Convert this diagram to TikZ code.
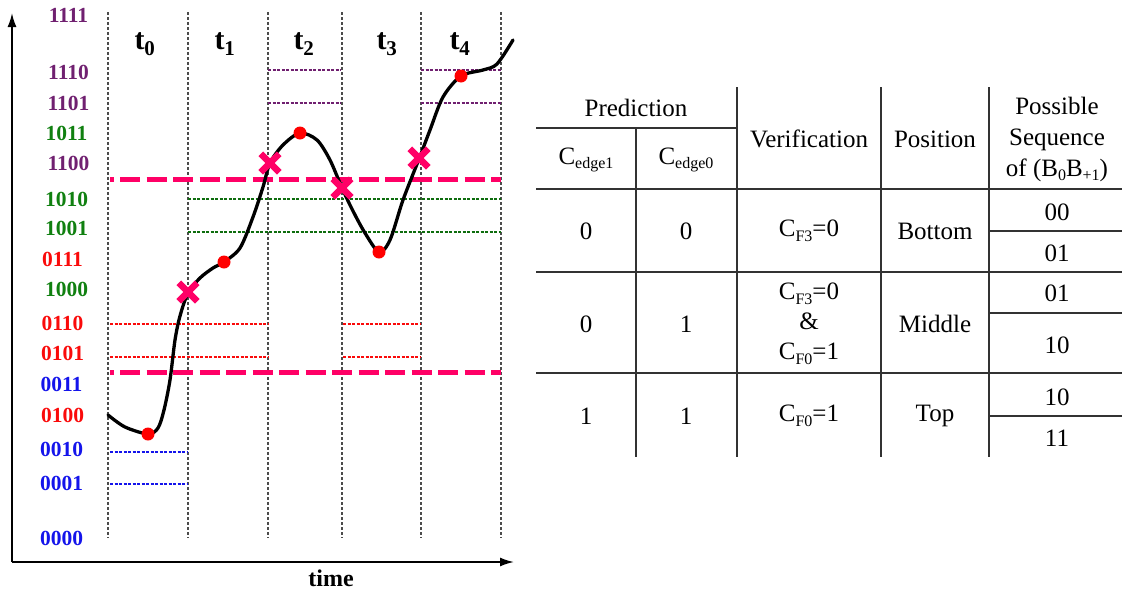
\documentclass[tikz,border=0pt]{standalone}
\usepackage{fontspec}
\setmainfont{Liberation Serif}
\usepackage{xcolor}
\usetikzlibrary{arrows.meta,shapes.misc}

\definecolor{lvlpurple}{RGB}{112,32,112}
\definecolor{lvlgreen}{RGB}{16,128,16}
\definecolor{lvlred}{RGB}{250,10,10}
\definecolor{lvlblue}{RGB}{20,20,235}
\definecolor{boundpink}{RGB}{255,0,102}
\definecolor{tablerule}{RGB}{50,50,50}

% small lowered index for table entries
\newcommand\idx[1]{\raisebox{-4.5pt}{\fontsize{16}{16}\selectfont #1}}

\begin{document}
\begin{tikzpicture}[
        x=1pt, y=-1pt,
        >={Latex[length=14pt,width=9pt]},
        lvl/.style={font=\fontsize{21.5}{23}\selectfont\bfseries, inner sep=0pt},
        slot/.style={font=\fontsize{30}{32}\selectfont\bfseries, inner sep=0pt},
        cell/.style={font=\fontsize{25}{30}\selectfont, align=center, inner sep=0pt},
        grid/.style={draw=black!70, line width=1.2pt, dash pattern=on 3pt off 2pt},
        level/.style={line width=1.1pt, dash pattern=on 3pt off 1.5pt},
        bound/.style={draw=boundpink, line width=5pt, dash pattern=on 20pt off 6.5pt, dash phase=16.5pt},
        signal/.style={line width=3.3pt, line cap=round, line join=round},
        peak/.style={circle, fill=red, inner sep=0pt, minimum size=13pt},
        crossing/.style={cross out, draw=boundpink, line width=6.5pt, minimum size=12pt, inner sep=0pt},
        rulew/.style={draw=tablerule, line width=1.6pt}
    ]
    \useasboundingbox (0,0) rectangle (1122,592);

    % axes
    \coordinate (origin) at (12,562);
    \coordinate (ytop) at (12,13);
    \coordinate (xend) at (514,562);
    \draw[->, line width=1.8pt] (origin) -- (ytop);
    \draw[->, line width=1.8pt] (origin) -- (xend);
    \node[font=\fontsize{24}{26}\selectfont\bfseries] (time) at (331,578) {time};

    % code levels
    \foreach \code/\y in {1111/15, 1110/72, 1101/103, 1100/163}
        \node[lvl, text=lvlpurple] (c\code) at (68.5,\y) {\code};
    \foreach \code/\y in {1011/133, 1010/199, 1001/228, 1000/289}
        \node[lvl, text=lvlgreen] (c\code) at (66.5,\y) {\code};
    \foreach \code/\y in {0111/259, 0110/323, 0101/353, 0100/415}
        \node[lvl, text=lvlred] (c\code) at (62.5,\y) {\code};
    \foreach \code/\y in {0011/384, 0010/449, 0001/483, 0000/538}
        \node[lvl, text=lvlblue] (c\code) at (61.5,\y) {\code};

    % time slots
    \foreach \x in {108, 188, 268, 342, 421, 501}
        \draw[grid] (\x,12) -- (\x,538);
    \foreach \i/\x in {0/145, 1/225, 2/304, 3/387, 4/460}
        \node[slot] (t\i) at (\x,44) {t\textsubscript{\i}};

    % thresholds of each slot
    \foreach \y in {70, 103} {
        \draw[level, lvlpurple] (268,\y) -- (341,\y);
        \draw[level, lvlpurple] (421,\y) -- (501,\y);
    }
    \foreach \y in {199, 232}
        \draw[level, lvlgreen!85!black] (188,\y) -- (501,\y);
    \foreach \y in {324, 357} {
        \draw[level, lvlred] (110,\y) -- (268,\y);
        \draw[level, lvlred] (343,\y) -- (420,\y);
    }
    \foreach \y in {452, 484}
        \draw[level, lvlblue] (110,\y) -- (187,\y);

    \draw[bound] (110,179) -- (501,179);
    \draw[bound] (110,372) -- (501,372);

    % signal
    \draw[signal] plot[smooth, tension=0.5] coordinates {
        (108,415) (125,427) (148,434) (158,428) (164,410) (170,380) (175,340)
        (180,316) (188,293) (200,278) (213,268) (224,262) (240,248) (253,217)
        (263,187) (270,163) (283,145) (300,133) (317,140) (330,160) (342,188)
        (353,211) (365,233) (379,252) (390,240) (403,200) (419,159) (430,130)
        (443,97) (461,76) (483,70) (497,64) (513,40)};

    \foreach \n/\x/\y in {a/148/434, b/224/262, c/300/133, d/379/252, e/461/76}
        \node[peak] (p\n) at (\x,\y) {};
    \foreach \n/\x/\y in {a/188/292, b/270/163, c/342/188, d/419/158}
        \node[crossing] (x\n) at (\x,\y) {};

    % table
    \draw[rulew] (536,128) -- (737,128);
    \foreach \y in {189, 272, 373}
        \draw[rulew] (536,\y) -- (1122,\y);
    \foreach \y in {231, 313, 416}
        \draw[rulew] (989,\y) -- (1122,\y);
    \draw[rulew] (636,128) -- (636,457);
    \foreach \x in {737, 881, 989}
        \draw[rulew] (\x,87) -- (\x,457);

    \node[cell] (pred) at (636,108) {Prediction};
    \node[cell] (edge1) at (586,160) {C\idx{edge1}};
    \node[cell] (edge0) at (686,160) {C\idx{edge0}};
    \node[cell] (verif) at (809,139) {Verification};
    \node[cell] (posit) at (935,139) {Position};
    \node[cell, font=\fontsize{25}{31}\selectfont] (seq) at (1057,139) {Possible\\Sequence\\of (B\idx{0}B\idx{+1})};

    \node[cell] (b1) at (586,231) {0};
    \node[cell] (b0) at (686,231) {0};
    \node[cell] (bv) at (809,231) {C\idx{F3}=0};
    \node[cell] (bp) at (935,231) {Bottom};
    \node[cell] (bs1) at (1057,212) {00};
    \node[cell] (bs2) at (1057,253) {01};

    \node[cell] (m1) at (586,324) {0};
    \node[cell] (m0) at (686,324) {1};
    \node[cell] (mv) at (809,324) {C\idx{F3}=0\\\&\\C\idx{F0}=1};
    \node[cell] (mp) at (935,324) {Middle};
    \node[cell] (ms1) at (1057,293) {01};
    \node[cell] (ms2) at (1057,345) {10};

    \node[cell] (u1) at (586,416) {1};
    \node[cell] (u0) at (686,416) {1};
    \node[cell] (uv) at (809,416) {C\idx{F0}=1};
    \node[cell] (up) at (935,416) {Top};
    \node[cell] (us1) at (1057,397) {10};
    \node[cell] (us2) at (1057,438) {11};
\end{tikzpicture}
\end{document}
